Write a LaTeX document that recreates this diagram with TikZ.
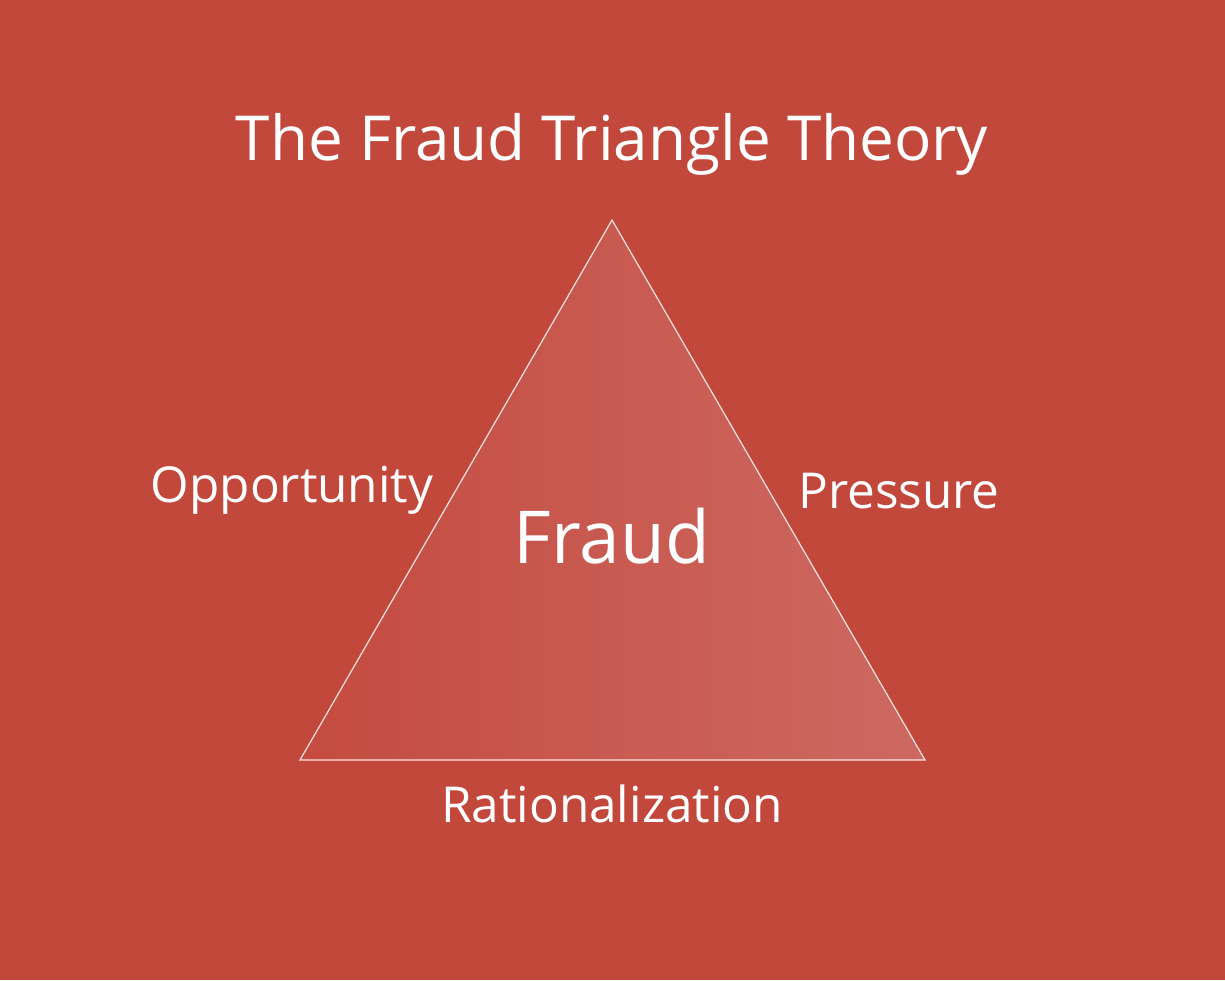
\documentclass[tikz,border=0pt]{standalone}
\usepackage{fontspec}
\setmainfont{Open Sans}
\definecolor{bg}{HTML}{C3483C}
\definecolor{tl}{HTML}{C44B40}
\definecolor{tr}{HTML}{CD6961}
\begin{document}
\begin{tikzpicture}[x=1pt,y=-1pt,lab/.style={text=white,inner sep=0pt,anchor=center}]
\fill[bg] (0,0) rectangle (1225,980);
\useasboundingbox (0,0) rectangle (1225,980);
\path[left color=tl,right color=tr,draw=white!85!bg,line width=1.2pt] (612,220) coordinate (apex) -- (925,760) coordinate (br) -- (300,760) coordinate (bl) -- cycle;
\node[lab,font=\fontsize{62}{72}\selectfont] (title) at (612,144) {The Fraud Triangle Theory};
\node[lab,font=\fontsize{49.5}{58}\selectfont] (opp) at (292,490) {Opportunity};
\node[lab,font=\fontsize{49.5}{58}\selectfont] (pre) at (899,491) {Pressure};
\node[lab,font=\fontsize{73}{84}\selectfont] (fraud) at (612,536) {Fraud};
\node[lab,font=\fontsize{49.5}{58}\selectfont] (rat) at (612,804) {Rationalization};
\end{tikzpicture}
\end{document}
